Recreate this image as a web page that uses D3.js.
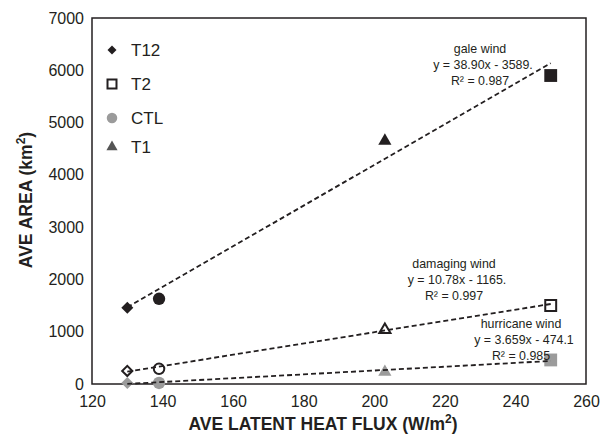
<!DOCTYPE html>
<html><head><meta charset="utf-8">
<script src="https://cdn.jsdelivr.net/npm/d3@7"></script>
<style>
body{margin:0;background:#fff;}
text{font-family:"Liberation Sans",Arial,sans-serif;fill:#231f20;}
</style></head>
<body><svg id="chart" width="601" height="441"></svg>
<script>
// ---- data ----
const categories = ["T12", "CTL", "T1", "T2"];
const flux = [130, 139, 203, 250];
const galeArea = [1460, 1630, 4650, 5900];
const damagingArea = [250, 290, 1035, 1500];
const hurricaneArea = [20, 20, 230, 460];
const seriesNames = ["gale wind", "damaging wind", "hurricane wind"];
const slopes = [38.90, 10.78, 3.659];
const intercepts = [-3589, -1165, -474.1];
const eqLabels = ["y = 38.90x - 3589.", "y = 10.78x - 1165.", "y = 3.659x - 474.1"];
const r2Labels = ["R² = 0.987", "R² = 0.997", "R² = 0.985"];
const xTicks = [120, 140, 160, 180, 200, 220, 240, 260];
const yTicks = [0, 1000, 2000, 3000, 4000, 5000, 6000, 7000];
const legendOrder = ["T12", "T2", "CTL", "T1"];

// ---- layout ----
const svg = d3.select("#chart");
const L = 92, R = 586, T = 18, B = 384;
const x = d3.scaleLinear().domain([120, 260]).range([L, R]);
const y = d3.scaleLinear().domain([0, 7000]).range([B, T]);

const shapeOf = {T12: "diamond", CTL: "circle", T1: "triangle", T2: "square"};
function symPath(shape, scale) {
  const s = scale || 1;
  if (shape === "diamond") return d3.symbol(d3.symbolSquare, 72 * s * s)();
  if (shape === "circle") return d3.symbol(d3.symbolCircle, 120 * s * s)();
  if (shape === "triangle") return d3.symbol(d3.symbolTriangle, 75 * s * s)();
  return d3.symbol(d3.symbolSquare, 165 * s * s)();
}

// axes (no tick marks)
const xAxis = d3.axisBottom(x).tickValues(xTicks).tickFormat(d3.format("d")).tickSize(0).tickPadding(12);
const yAxis = d3.axisLeft(y).tickValues(yTicks).tickFormat(d3.format("d")).tickSize(0).tickPadding(8);
const gx = svg.append("g").attr("transform", `translate(0,${B})`).call(xAxis);
const gy = svg.append("g").attr("transform", `translate(${L},0)`).call(yAxis);
[gx, gy].forEach(g => {
  g.select(".domain").remove();
  g.selectAll("text").style("font-size", "16px").style("font-family", '"Liberation Sans",Arial,sans-serif').attr("fill", "#231f20");
});

// frame
svg.append("rect").attr("x", L).attr("y", T).attr("width", R - L).attr("height", B - T)
  .attr("fill", "none").attr("stroke", "#231f20").attr("stroke-width", 1.5);

// axis titles
const xt = svg.append("text").attr("x", 323).attr("y", 430).attr("text-anchor", "middle")
  .style("font-size", "17.5px").style("font-weight", "bold");
xt.append("tspan").text("AVE LATENT HEAT FLUX (W/m");
xt.append("tspan").text("2").attr("dy", -7).style("font-size", "12px");
xt.append("tspan").text(")").attr("dy", 7);

const yt = svg.append("text").attr("transform", "translate(32,200) rotate(-90)").attr("text-anchor", "middle")
  .style("font-size", "17.5px").style("font-weight", "bold");
yt.append("tspan").text("AVE AREA (km");
yt.append("tspan").text("2").attr("dy", -7).style("font-size", "12px");
yt.append("tspan").text(")").attr("dy", 7);

// markers
const seriesData = [galeArea, damagingArea, hurricaneArea];
const styles = [
  {fill: "#231f20", stroke: "none", sw: 0, scale: 1},
  {fill: "#fff", stroke: "#231f20", sw: 2, scale: 0.85},
  {fill: "#9b9b9b", stroke: "none", sw: 0, scale: 1}
];
seriesData.forEach((vals, si) => {
  const st = styles[si];
  svg.append("g").selectAll("path").data(categories).join("path")
    .attr("d", (c) => symPath(shapeOf[c], st.scale))
    .attr("transform", (c, i) => `translate(${x(flux[i])},${y(vals[i])})` + (shapeOf[c] === "diamond" ? " rotate(45)" : ""))
    .attr("fill", st.fill).attr("stroke", st.stroke).attr("stroke-width", st.sw);
});

// trend lines
const xr = [d3.min(flux), d3.max(flux)];
slopes.forEach((m, i) => {
  const pts = xr.map(v => [x(v), y(m * v + intercepts[i])]);
  svg.append("path").attr("d", d3.line()(pts)).attr("fill", "none")
    .attr("stroke", "#231f20").attr("stroke-width", 1.8).attr("stroke-dasharray", "5,3");
});

// annotations
const annoPos = [{cx: 480, by: 53}, {cx: 454, by: 268}, {cx: 521, by: 328}];
annoPos.forEach((p, i) => {
  const g = svg.append("g").attr("text-anchor", "middle").style("font-size", "12.4px");
  g.append("text").attr("x", p.cx).attr("y", p.by).text(seriesNames[i]);
  g.append("text").attr("x", p.cx + 3).attr("y", p.by + 16).text(eqLabels[i]);
  g.append("text").attr("x", p.cx).attr("y", p.by + 32).text(r2Labels[i]);
});

// legend
const legendFill = {T12: "#231f20", T2: "#fff", CTL: "#9b9b9b", T1: "#555555"};
const legendY = [50, 84, 118, 147];
const lg = svg.append("g");
legendOrder.forEach((c, i) => {
  const sc = c === "T12" ? 0.75 : (c === "T2" ? 0.7 : 0.85);
  lg.append("path").attr("d", symPath(shapeOf[c], sc))
    .attr("transform", `translate(112,${legendY[i]})` + (c === "T12" ? " rotate(45)" : ""))
    .attr("fill", legendFill[c])
    .attr("stroke", c === "T2" ? "#231f20" : "none").attr("stroke-width", 2);
  lg.append("text").attr("x", 131).attr("y", legendY[i] + 6).style("font-size", "17px").text(c);
});
</script></body></html>
